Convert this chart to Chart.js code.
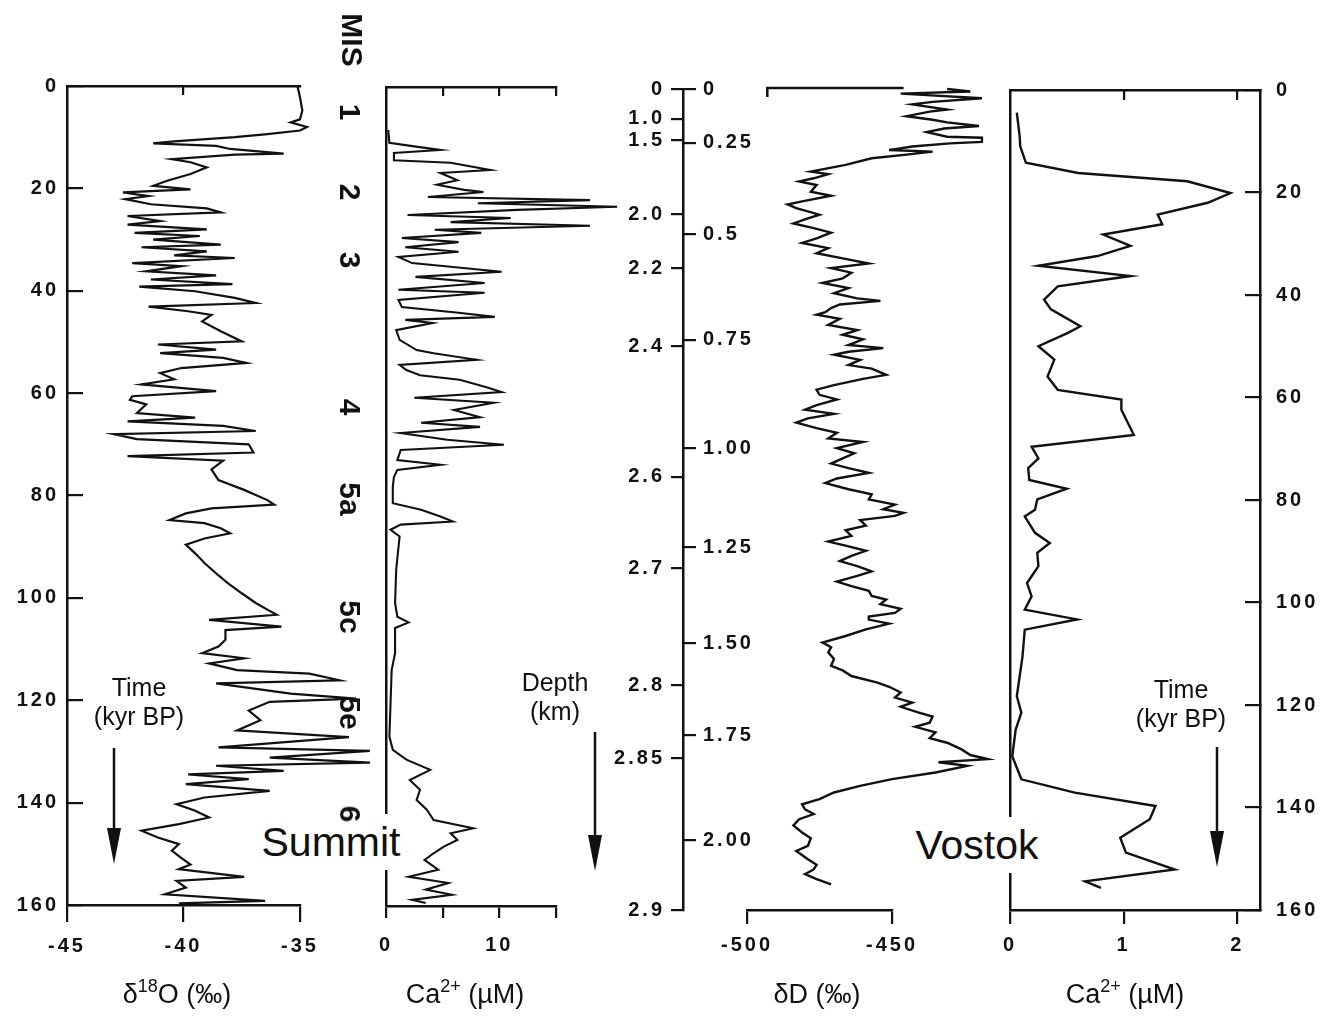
<!DOCTYPE html>
<html><head><meta charset="utf-8">
<script src="https://cdn.jsdelivr.net/npm/chart.js@4.4.1/dist/chart.umd.min.js"></script>
<style>
html,body{margin:0;padding:0;background:#fff;}
#wrap{position:relative;width:1323px;height:1016px;overflow:hidden;background:#fff;}
#wrap canvas{position:absolute;left:0;top:0;}
.lbl{position:absolute;font-family:"Liberation Sans","DejaVu Sans",sans-serif;color:#111;white-space:nowrap;text-align:center;transform:translate(-50%,-50%);}
.mis{font-weight:bold;font-size:30px;line-height:30px;transform:translate(-50%,-50%) rotate(90deg);}
.note{font-size:25px;line-height:29px;}
.site{font-size:41px;line-height:38px;background:#fff;padding:9px 3px;}
.ttl{font-size:27px;line-height:30px;}
.ttl sup{font-size:18px;position:relative;top:-11px;vertical-align:baseline;line-height:0;}
#arrows{position:absolute;left:0;top:0;}
</style></head><body>
<div id="wrap">
<canvas id="cA" width="1323" height="1016"></canvas>
<canvas id="cB" width="1323" height="1016"></canvas>
<canvas id="cC1" width="1323" height="1016"></canvas>
<canvas id="cC" width="1323" height="1016"></canvas>
<canvas id="cD" width="1323" height="1016"></canvas>
<svg id="arrows" width="1323" height="1016">
<line x1="114" y1="748" x2="114" y2="835" stroke="#111" stroke-width="2.5"/>
<polygon points="107,828 121,828 114,864" fill="#111"/>
<line x1="595" y1="732" x2="595" y2="842" stroke="#111" stroke-width="2.5"/>
<polygon points="588,835 602,835 595,871" fill="#111"/>
<line x1="1217" y1="747" x2="1217" y2="838" stroke="#111" stroke-width="2.5"/>
<polygon points="1210,831 1224,831 1217,867" fill="#111"/>
</svg>
<div class="lbl note" style="left:139px;top:702px;">Time<br>(kyr BP)</div>
<div class="lbl note" style="left:555px;top:697px;">Depth<br>(km)</div>
<div class="lbl note" style="left:1181px;top:704px;">Time<br>(kyr BP)</div>
<div class="lbl site" style="left:331px;top:842px;">Summit</div>
<div class="lbl site" style="left:977px;top:845px;">Vostok</div>
<div class="lbl ttl" style="left:177px;top:994px;">δ<sup>18</sup>O (‰)</div>
<div class="lbl ttl" style="left:465px;top:994px;">Ca<sup>2+</sup> (µM)</div>
<div class="lbl ttl" style="left:817px;top:994px;">δD (‰)</div>
<div class="lbl ttl" style="left:1125px;top:994px;">Ca<sup>2+</sup> (µM)</div>
<div class="lbl mis" style="left:352px;top:40px;">MIS</div>
</div>
<script>
// ---------- data ----------
const timeTicks = [0, 20, 40, 60, 80, 100, 120, 140, 160];
const d18OTicks = [-45, -40, -35];
const summitCaTicks = [0, 5, 10, 15];
const summitCaLabelled = [0, 10];
const dDTicks = [-500, -450];
const vostokCaTicks = [0, 1, 2];

const misLabels = ['1', '2', '3', '4', '5a', '5c', '5e', '6'];
const misTimes = [5.1, 20.7, 34.0, 62.7, 80.7, 103.7, 122.5, 142.2];

const depthLabels = ['0', '1.0', '1.5', '2.0', '2.2', '2.4', '2.6', '2.7', '2.8', '2.85', '2.9'];
const depthTickTimes = [0, 5.8, 10.0, 24.4, 34.9, 50.1, 75.6, 93.4, 116.2, 130.4, 160];
const vostokScaleLabels = ['0', '0.25', '0.5', '0.75', '1.00', '1.25', '1.50', '1.75', '2.00'];
const vostokScaleTimes = [0, 10.5, 28.3, 48.9, 70.0, 89.3, 108.0, 125.9, 146.4];

const summitD18OTime = [0.2,2.2,4.8,6.5,7.1,8.0,8.7,9.4,10.0,10.8,11.2,11.7,12.3,13.2,13.4,14.3,14.9,15.9,17.2,18.5,19.5,20.2,20.8,21.5,22.1,23.1,23.9,24.7,25.4,26.4,27.1,28.0,28.7,29.3,30.0,31.0,31.5,32.3,33.1,33.6,34.6,35.2,36.2,37.0,37.8,38.7,39.2,40.1,41.4,42.4,43.1,44.0,44.7,46.0,47.9,49.9,50.5,51.5,52.2,53.1,54.1,55.1,56.1,57.3,58.3,59.6,60.6,61.3,62.2,63.9,64.8,65.5,66.4,67.4,68.0,69.0,70.0,71.6,72.3,73.2,74.9,77.0,78.9,80.9,81.8,82.5,83.5,84.8,85.4,86.4,87.4,88.4,89.6,91.3,93.2,95.2,97.1,99.1,101.0,102.3,103.3,104.3,105.6,106.3,108.2,109.5,110.8,111.8,112.8,114.1,114.8,116.1,116.7,118.7,119.7,120.3,122.0,123.9,125.9,127.2,129.2,129.9,131.2,132.2,132.8,133.8,134.5,135.4,136.4,137.7,139.0,140.3,141.6,142.9,144.2,145.5,146.8,148.1,149.4,150.8,152.1,153.0,154.5,155.3,156.6,157.9,159.2,159.7];
const summitD18O = [-35.1,-35.0,-34.9,-35.0,-35.4,-34.7,-35.0,-36.4,-37.8,-40.4,-41.3,-38.6,-38.0,-35.7,-37.8,-40.5,-39.7,-39.0,-39.7,-40.7,-41.3,-39.7,-42.6,-41.5,-42.5,-41.4,-39.0,-38.4,-42.4,-41.0,-42.4,-39.0,-42.1,-39.3,-41.3,-38.4,-41.8,-39.0,-40.4,-37.8,-42.2,-40.1,-41.6,-38.6,-41.4,-37.9,-41.9,-39.5,-37.8,-36.9,-41.5,-39.8,-38.8,-39.2,-38.4,-37.5,-41.1,-38.6,-41.0,-38.3,-37.3,-40.1,-41.0,-40.4,-41.8,-38.6,-42.2,-42.3,-41.6,-42.0,-39.5,-42.4,-38.3,-36.9,-43.0,-42.0,-37.2,-37.0,-42.4,-38.3,-38.8,-38.5,-37.4,-36.4,-36.1,-38.8,-39.9,-40.6,-39.1,-38.4,-38.0,-39.1,-39.9,-39.5,-39.1,-38.6,-38.1,-37.5,-36.9,-36.4,-36.0,-38.9,-35.8,-38.2,-38.2,-38.5,-39.2,-37.4,-38.9,-37.7,-34.6,-33.3,-38.6,-35.4,-32.6,-36.3,-37.2,-36.7,-37.7,-32.9,-38.5,-32.0,-36.3,-32.0,-38.6,-35.7,-39.8,-37.2,-39.9,-36.3,-39.1,-40.3,-39.5,-38.9,-40.2,-41.8,-41.1,-40.2,-40.5,-40.1,-39.7,-40.2,-37.4,-40.3,-39.9,-40.8,-36.5,-40.2];

const summitCaTime = [8.4,10.9,11.7,12.3,12.9,14.3,14.8,16.2,16.8,18.2,19.1,20.1,20.5,21.5,22.1,22.7,23.4,24.0,25.0,25.6,26.4,27.1,27.9,28.5,29.5,30.3,31.3,32.2,33.2,34.4,36.1,37.1,38.3,39.6,40.2,41.6,43.0,44.1,44.9,45.5,46.1,47.5,49.4,51.4,52.0,53.3,54.3,55.3,56.3,57.2,58.6,59.6,60.7,61.7,63.1,64.5,65.6,66.4,67.6,68.9,69.9,70.9,72.9,73.8,74.8,76.2,78.1,81.3,82.6,83.9,84.9,85.5,86.5,87.8,94.3,100.8,103.5,104.6,105.7,110.6,113.9,120.4,126.9,129.5,131.4,133.4,135.4,137.3,139.3,141.2,143.2,144.8,145.8,147.1,148.4,149.7,151.0,152.9,154.3,155.5,156.8,157.8,158.8,159.4];
const summitCa = [0.2,0.3,2.8,4.8,0.7,0.7,5.7,9.2,4.8,6.3,4.5,6.9,8.6,3.7,18.0,8.1,20.4,11.6,1.9,11.0,5.7,18.0,4.3,8.4,1.4,6.4,1.7,6.4,1.1,2.3,10.2,2.6,8.7,1.1,8.7,1.1,1.4,6.4,9.6,1.7,4.1,0.9,1.2,2.7,4.2,8.0,1.2,1.8,3.0,6.5,8.8,10.2,2.5,9.5,6.0,8.3,3.1,8.3,1.3,5.4,10.4,1.3,1.0,4.8,1.0,0.7,0.6,0.6,3.1,4.8,5.9,1.3,0.4,1.2,0.9,0.8,1.0,2.0,0.8,0.8,0.5,0.4,0.3,0.6,1.8,3.9,2.1,3.0,2.7,3.6,4.2,7.7,5.7,6.3,5.1,4.2,3.4,4.6,2.0,5.5,3.5,5.8,2.3,3.5];

const vostokDDTime = [0,0.5,0.9,1.2,1.8,2.5,3.0,4.0,4.4,5.3,6.0,6.5,7.2,7.7,8.4,9.3,9.5,10.3,10.6,11.2,11.9,12.2,12.8,13.5,14.8,16.1,16.6,17.4,18.0,18.7,20.0,20.8,21.9,22.5,23.2,24.5,25.2,26.2,27.1,28.0,29.1,30.0,31.0,32.0,33.0,34.0,34.9,35.8,36.9,37.8,38.8,39.8,40.8,41.3,42.0,42.7,43.5,44.0,44.8,46.0,47.0,47.9,48.8,49.9,50.5,51.2,51.8,52.8,53.8,54.5,55.7,56.5,57.7,58.6,59.6,60.5,61.6,62.5,63.3,64.2,65.0,66.1,67.0,68.1,68.8,70.0,71.0,72.0,73.0,73.9,74.8,75.9,76.8,78.0,79.0,80.0,81.0,81.9,82.6,83.2,84.0,85.1,86.0,87.1,88.2,89.0,90.0,91.0,92.0,93.0,94.0,94.9,96.0,96.9,97.8,98.8,99.5,100.4,101.3,102.1,102.8,103.4,104.2,105.3,106.6,107.9,108.8,109.8,111.1,112.4,113.3,114.4,115.7,116.5,117.6,118.6,119.6,120.4,121.5,122.3,123.5,124.3,125.4,126.5,127.4,128.7,129.8,130.6,131.2,131.9,133.2,134.5,135.8,137.1,138.4,139.4,140.4,141.3,142.3,143.5,144.9,146.0,147.5,148.5,150.1,151.2,152.1,153.0,154.0,155.0];
const vostokDD = [-431,-423,-447,-438,-419,-436,-443,-431,-437,-445,-436,-431,-420,-432,-438,-431,-419,-419,-430,-443,-451,-436,-445,-457,-466,-478,-472,-477,-482,-476,-478,-471,-481,-486,-483,-475,-479,-484,-477,-471,-476,-481,-472,-476,-467,-458,-471,-464,-467,-474,-465,-470,-462,-454,-468,-471,-473,-476,-468,-472,-462,-467,-460,-465,-453,-465,-470,-461,-465,-457,-452,-460,-470,-476,-475,-469,-476,-480,-470,-479,-483,-476,-469,-472,-460,-469,-463,-467,-471,-465,-458,-469,-473,-465,-457,-458,-449,-453,-446,-449,-461,-459,-466,-464,-472,-466,-459,-464,-468,-462,-457,-462,-469,-464,-458,-457,-452,-454,-447,-449,-458,-458,-451,-459,-466,-474,-471,-472,-470,-471,-467,-464,-455,-451,-447,-449,-443,-447,-441,-436,-437,-442,-435,-437,-431,-426,-423,-417,-434,-424,-435,-450,-461,-470,-475,-481,-480,-477,-482,-484,-481,-478,-479,-483,-479,-476,-477,-480,-476,-471];

const vostokCaTime = [4.4,9.0,11.0,14.2,16.2,17.8,20.1,22.0,24.3,26.2,28.2,30.4,32.4,34.3,36.3,38.3,40.9,42.8,46.1,47.4,50.0,52.6,55.9,58.5,60.4,62.4,67.3,69.6,71.9,73.8,76.1,77.8,79.9,81.9,83.2,86.4,88.4,90.3,92.9,96.2,98.8,101.4,103.3,105.3,110.5,118.3,121.5,124.8,130.0,134.5,137.1,139.7,142.3,145.9,148.8,152.1,154.4,155.7];
const vostokCa = [0.06,0.085,0.09,0.14,0.6,1.56,1.94,1.74,1.30,1.34,0.82,1.06,0.77,0.25,1.06,0.42,0.30,0.36,0.62,0.51,0.25,0.39,0.33,0.42,0.98,0.98,1.09,0.19,0.25,0.16,0.17,0.50,0.24,0.22,0.13,0.22,0.35,0.24,0.25,0.15,0.19,0.13,0.59,0.13,0.11,0.06,0.10,0.05,0.02,0.10,0.57,1.28,1.23,0.97,1.02,1.45,0.66,0.80];

// ---------- styling ----------
const INK = '#111111';
const FAM = '"Liberation Sans", "DejaVu Sans", Arial, sans-serif';
const TICKFONT = {family: FAM, size: 20, weight: 'bold'};
const W = 1323, H = 1016;

// wide-spaced tick lettering like the original figure
const spacedText = {
  id: 'spacedText',
  beforeDraw(c) { c.ctx.letterSpacing = '3px'; },
  afterDraw(c) { c.ctx.letterSpacing = '0px'; }
};
Chart.register(spacedText);

function pts(ts, vs) { return ts.map((t, i) => ({x: vs[i], y: t})); }
function fixedTicks(list) { return s => { s.ticks = list.map(v => ({value: v})); }; }
function setW(w) { return s => { s.width = w; }; }
function setH(h) { return s => { s.height = h; }; }
function line(data, width) {
  return {data: data, showLine: true, borderColor: INK, backgroundColor: INK, borderWidth: width,
          pointRadius: 0, pointHoverRadius: 0, clip: false, tension: 0};
}
function baseOpts(padding, scales) {
  return {
    responsive: false, animation: false, devicePixelRatio: 1, events: [],
    layout: {padding: padding},
    plugins: {legend: {display: false}, tooltip: {enabled: false}},
    scales: scales
  };
}
const BORDER = {display: true, color: INK, width: 2.5};
function gridT(len) { return {drawOnChartArea: false, drawTicks: true, tickLength: len, color: INK, lineWidth: 2.2}; }
const NOGRID = {drawOnChartArea: false, drawTicks: false, display: true, color: INK};
function timeAxis(extra) {
  return Object.assign({type: 'linear', min: 0, max: 160, reverse: true}, extra);
}

// ---------- Summit d18O ----------
const chartA = new Chart(document.getElementById('cA'), {
  type: 'scatter',
  data: {datasets: [line(pts(summitD18OTime, summitD18O), 2.2)]},
  options: baseOpts({left: 0, right: W - 300, top: 86, bottom: 0}, {
    x: {type: 'linear', position: 'bottom', min: -45, max: -35,
        afterBuildTicks: fixedTicks(d18OTicks), afterFit: setH(H - 905),
        ticks: {font: TICKFONT, color: INK, padding: 12, autoSkip: false, maxRotation: 0, callback: v => String(v)},
        grid: gridT(17), border: BORDER},
    xt: {type: 'linear', position: 'top', min: -45, max: -35,
        afterBuildTicks: fixedTicks([-40]), afterFit: setH(0),
        ticks: {display: false}, grid: gridT(-9), border: BORDER},
    y: timeAxis({position: 'left', afterBuildTicks: fixedTicks(timeTicks), afterFit: setW(67),
        ticks: {font: TICKFONT, color: INK, padding: 24, autoSkip: false},
        grid: gridT(-16), border: BORDER})
  })
});

// ---------- Summit Ca ----------
const chartB = new Chart(document.getElementById('cB'), {
  type: 'scatter',
  data: {datasets: [line(pts(summitCaTime, summitCa), 2.1)]},
  options: baseOpts({left: 386, right: W - 556, top: 87, bottom: 0}, {
    x: {type: 'linear', position: 'bottom', min: 0, max: 15,
        afterBuildTicks: fixedTicks(summitCaTicks), afterFit: setH(H - 906),
        ticks: {font: TICKFONT, color: INK, padding: 15, autoSkip: false, maxRotation: 0,
                callback: v => summitCaLabelled.includes(v) ? String(v) : ''},
        grid: gridT(12), border: BORDER},
    xt: {type: 'linear', position: 'top', min: 0, max: 15,
        afterBuildTicks: fixedTicks([5, 10, 15]), afterFit: setH(0),
        ticks: {display: false}, grid: gridT(-9), border: BORDER},
    y: timeAxis({position: 'left', afterFit: setW(0), ticks: {display: false}, grid: NOGRID, border: BORDER})
  })
});

// ---------- Vostok depth / age axis ----------
const chartC1 = new Chart(document.getElementById('cC1'), {
  type: 'scatter',
  data: {datasets: []},
  options: baseOpts({left: 590, right: W - 774, top: 89, bottom: H - 910}, {
    x: {type: 'linear', display: false, min: 0, max: 1},
    y: timeAxis({position: 'left', afterBuildTicks: fixedTicks(depthTickTimes), afterFit: setW(93),
        ticks: {font: TICKFONT, color: INK, padding: 6, autoSkip: false, callback: (v, i) => depthLabels[i]},
        grid: gridT(12), border: BORDER}),
    y2: timeAxis({position: 'right', afterBuildTicks: fixedTicks(vostokScaleTimes), afterFit: setW(90),
        ticks: {font: TICKFONT, color: INK, padding: 7, autoSkip: false, callback: (v, i) => vostokScaleLabels[i]},
        grid: gridT(12), border: {display: false}})
  })
});

// ---------- Vostok dD ----------
const topFrame = {
  id: 'topFrame',
  afterDraw(c) {
    const xs = c.scales.x, ctx = c.ctx, y = c.chartArea.top - 1;
    const a = xs.getPixelForValue(-493), b = xs.getPixelForValue(-446);
    ctx.save(); ctx.strokeStyle = INK; ctx.lineWidth = 2.5;
    ctx.beginPath(); ctx.moveTo(a, y + 9); ctx.lineTo(a, y); ctx.lineTo(b, y); ctx.stroke();
    ctx.restore();
  }
};
const chartC = new Chart(document.getElementById('cC'), {
  type: 'scatter',
  data: {datasets: [line(pts(vostokDDTime, vostokDD), 2.4)]},
  options: baseOpts({left: 747, right: W - 892, top: 89, bottom: 0}, {
    x: {type: 'linear', position: 'bottom', min: -500, max: -450,
        afterBuildTicks: fixedTicks(dDTicks), afterFit: setH(H - 910),
        ticks: {font: TICKFONT, color: INK, padding: 9, autoSkip: false, maxRotation: 0, callback: v => String(v)},
        grid: gridT(14), border: BORDER},
    y: timeAxis({display: false})
  }),
  plugins: [topFrame]
});

// ---------- Vostok Ca ----------
const chartD = new Chart(document.getElementById('cD'), {
  type: 'scatter',
  data: {datasets: [line(pts(vostokCaTime, vostokCa), 2.4)]},
  options: baseOpts({left: 1010, right: 0, top: 90, bottom: 0}, {
    x: {type: 'linear', position: 'bottom', min: 0, max: 2.2,
        afterBuildTicks: fixedTicks(vostokCaTicks), afterFit: setH(H - 910),
        ticks: {font: TICKFONT, color: INK, padding: 9, autoSkip: false, maxRotation: 0, callback: v => String(v)},
        grid: gridT(14), border: BORDER},
    xt: {type: 'linear', position: 'top', min: 0, max: 2.2,
        afterBuildTicks: fixedTicks([1, 2]), afterFit: setH(0),
        ticks: {display: false}, grid: gridT(-10), border: BORDER},
    y: timeAxis({position: 'left', afterFit: setW(0), ticks: {display: false}, grid: NOGRID, border: BORDER}),
    y2: timeAxis({position: 'right', afterBuildTicks: fixedTicks(timeTicks), afterFit: setW(W - 1260),
        ticks: {font: TICKFONT, color: INK, padding: 31, autoSkip: false},
        grid: gridT(-15), border: BORDER})
  })
});

// ---------- MIS labels, placed on the Summit time scale ----------
const wrap = document.getElementById('wrap');
const ys = chartA.scales.y;
misLabels.forEach((m, i) => {
  const d = document.createElement('div');
  d.className = 'lbl mis';
  d.textContent = m;
  d.style.left = '350px';
  d.style.top = ys.getPixelForValue(misTimes[i]) + 'px';
  wrap.appendChild(d);
});
</script>
</body></html>
